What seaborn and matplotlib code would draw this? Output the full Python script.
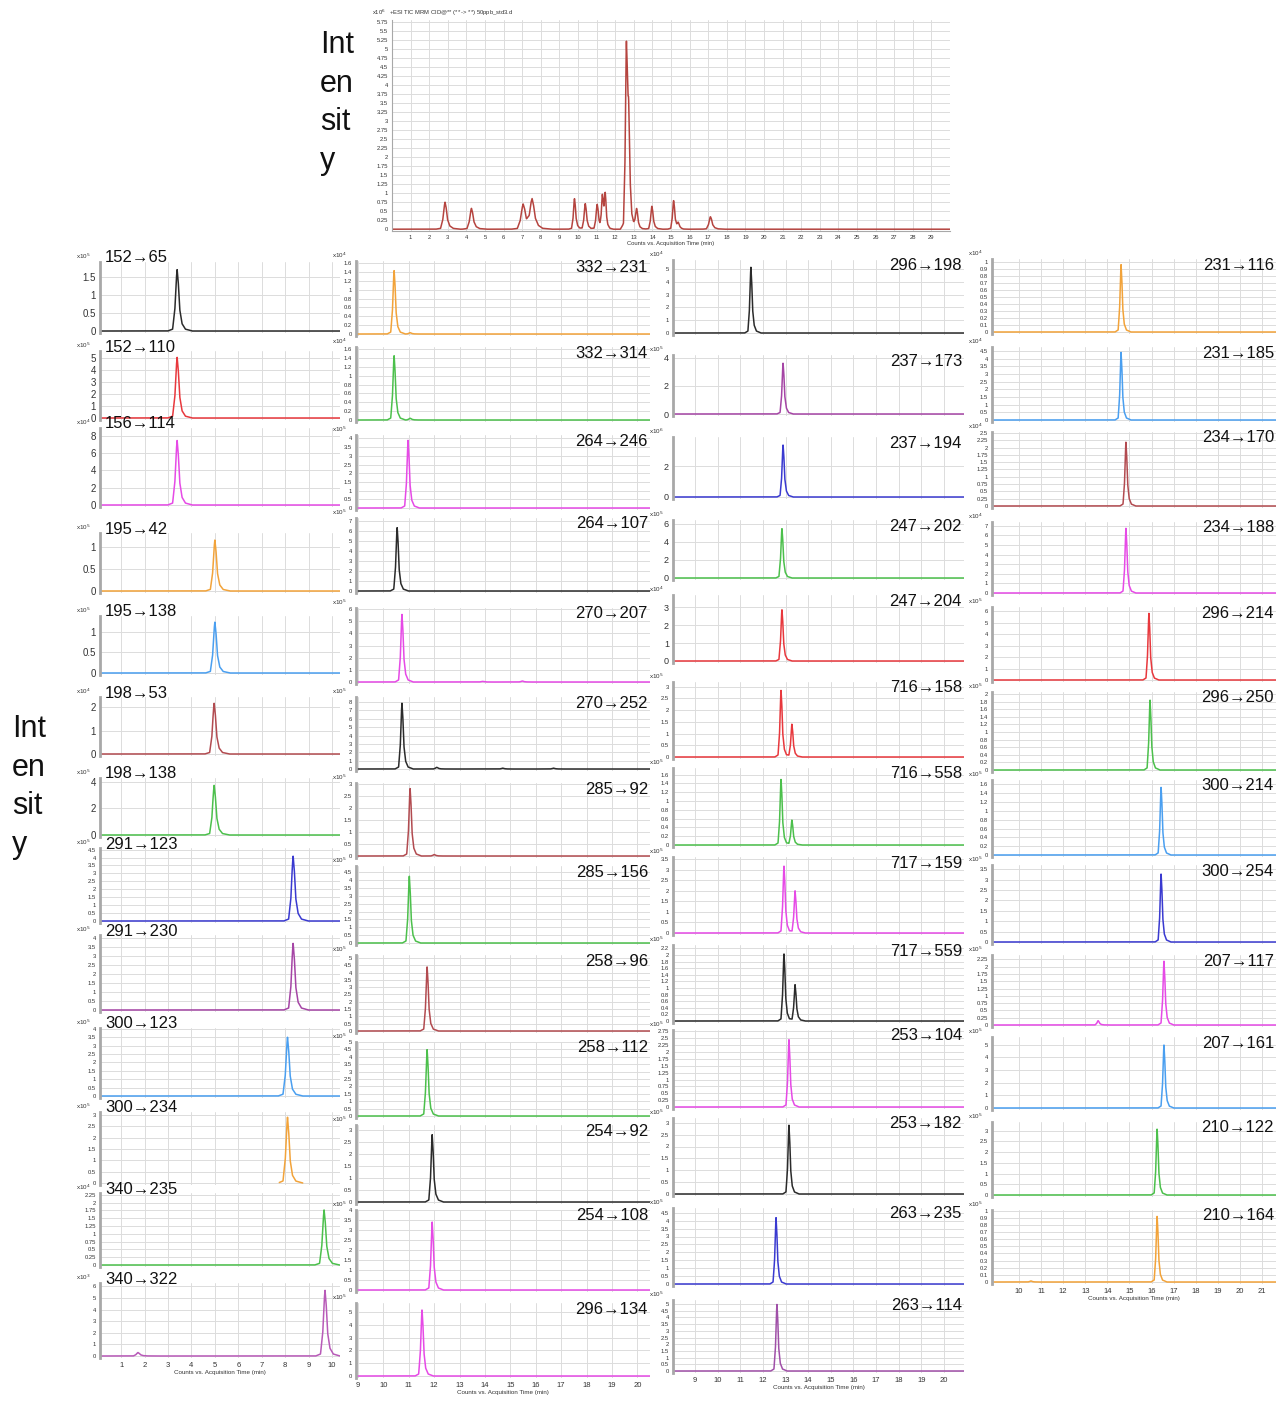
import numpy as np
import pandas as pd
import matplotlib
matplotlib.use("Agg")
import matplotlib.pyplot as plt
import seaborn as sns

sns.set_style("white")
plt.rcParams['font.family'] = ['Liberation Sans', 'DejaVu Sans']

# ---------------- DATA ----------------
# Total ion chromatogram (x10^6 counts) : retention time (min), peak height, relative width
tic_rt = [2.85, 4.27, 7.05, 7.53, 9.81, 10.39, 11.03, 11.31, 11.46, 12.60, 12.72,
          13.15, 13.97, 15.14, 15.39, 17.12]
tic_h = [0.75, 0.58, 0.69, 0.81, 0.86, 0.72, 0.70, 0.93, 0.93, 4.85, 2.40,
         0.56, 0.65, 0.81, 0.15, 0.35]
tic_w = [2.0, 2.0, 2.6, 2.6, 1.3, 1.4, 1.4, 1.1, 1.1, 1.3, 1.3, 1.4, 1.4, 1.3, 1.3, 1.8]
tic_yticks = [i * 0.25 for i in range(24)]
tic_xticks = list(range(1, 30))

# Column 1 (MRM transitions)
col1_labels = ["152→65", "152→110", "156→114", "195→42", "195→138", "198→53", "198→138",
               "291→123", "291→230", "300→123", "300→234", "340→235", "340→322"]
col1_rt = [[3.39], [3.39], [3.39], [5.0], [5.0], [4.97], [4.97],
           [8.34], [8.34], [8.10], [8.10], [9.66], [1.72, 9.70]]
col1_h = [[1.7], [5.1], [7.5], [1.16], [1.24], [2.17], [3.76],
          [4.1], [3.7], [3.5], [2.9], [1.77], [0.3, 5.7]]
col1_ymax = [1.9, 5.6, 8.9, 1.32, 1.39, 2.43, 4.3, 4.6, 4.15, 4.05, 3.13, 2.31, 6.3]
col1_ystep = [0.5, 1, 2, 0.5, 0.5, 1, 2, 0.5, 0.5, 0.5, 0.5, 0.25, 1]
col1_exp = [5, 5, 4, 5, 5, 4, 5, 5, 5, 5, 5, 4, 3]
col1_span = [None] * 10 + [(7.75, 8.75)] + [None] * 2
col1_xticks = list(range(1, 11))

# Column 2
col2_labels = ["332→231", "332→314", "264→246", "264→107", "270→207", "270→252", "285→92",
               "285→156", "258→96", "258→112", "254→92", "254→108", "296→134"]
col2_rt = [[10.42, 11.05], [10.42, 11.05], [10.97], [10.54], [10.73, 13.9, 15.47],
           [10.73, 12.1, 14.7, 16.7], [11.05, 12.0], [11.02], [11.72], [11.72],
           [11.92], [11.92], [11.52]]
col2_h = [[1.45, 0.03], [1.47, 0.04], [3.9], [6.4], [5.6, 0.05, 0.08],
          [7.9, 0.2, 0.1, 0.1], [2.83, 0.06], [4.26], [4.4], [4.5], [2.8], [3.4], [5.2]]
col2_ymax = [1.65, 1.65, 4.2, 7.3, 6.1, 8.6, 3.04, 4.9, 5.2, 5.0, 3.2, 4.0, 5.7]
col2_ystep = [0.2, 0.2, 0.5, 1, 1, 1, 0.5, 0.5, 0.5, 0.5, 0.5, 0.5, 1]
col2_exp = [4, 4, 5, 5, 5, 5, 5, 5, 5, 5, 5, 5, 5]
col2_xticks = list(range(9, 21))

# Column 3
col3_labels = ["296→198", "237→173", "237→194", "247→202", "247→204", "716→158", "716→558",
               "717→159", "717→559", "253→104", "253→182", "263→235", "263→114"]
col3_rt = [[11.47], [12.89], [12.89], [12.84], [12.84], [12.8, 13.28], [12.8, 13.28],
           [12.93, 13.42], [12.93, 13.42], [13.15], [13.15], [12.58], [12.62]]
col3_h = [[5.15], [3.64], [3.4], [5.5], [2.9], [2.86, 1.41], [1.5, 0.57],
          [3.2, 2.0], [2.05, 1.1], [2.45], [2.9], [4.2], [5.0]]
col3_ymax = [5.7, 4.2, 3.9, 6.4, 3.7, 3.2, 1.75, 3.6, 2.3, 2.8, 3.2, 4.8, 5.3]
col3_ystep = [1, 2, 2, 2, 1, 0.5, 0.2, 0.5, 0.2, 0.25, 0.5, 0.5, 0.5]
col3_exp = [4, 5, 6, 5, 4, 5, 5, 5, 5, 5, 5, 5, 5]
col3_xticks = list(range(9, 21))

# Column 4
col4_labels = ["231→116", "231→185", "234→170", "234→188", "296→214", "296→250",
               "300→214", "300→254", "207→117", "207→161", "210→122", "210→164"]
col4_rt = [[14.62], [14.62], [14.84], [14.84], [15.88], [15.93], [16.43], [16.43],
           [13.58, 16.56], [16.56], [16.25], [10.54, 16.25]]
col4_h = [[0.96], [4.4], [2.2], [6.8], [5.8], [1.85], [1.55], [3.3],
          [0.15, 2.2], [5.0], [3.1], [0.015, 0.93]]
col4_ymax = [1.04, 4.75, 2.53, 7.4, 6.35, 2.05, 1.7, 3.7, 2.4, 5.6, 3.4, 1.01]
col4_ystep = [0.1, 0.5, 0.25, 1, 1, 0.2, 0.2, 0.5, 0.25, 1, 0.5, 0.1]
col4_exp = [4, 4, 4, 4, 5, 5, 5, 5, 5, 5, 5, 5]
col4_xticks = list(range(10, 22))

# ---------------- STYLE / LAYOUT ----------------
BLACK, RED, MAG, ORA, LBLUE = "#2b2b2b", "#e8383d", "#e64ae6", "#f2a33a", "#4a9ff0"
BROWN, GREEN, BLUE, PURP = "#b24b50", "#4cc04c", "#3a3ad0", "#a545a5"
col1_colors = [BLACK, RED, MAG, ORA, LBLUE, BROWN, GREEN, BLUE, PURP, LBLUE, ORA, GREEN, "#b85ab8"]
col2_colors = [ORA, GREEN, MAG, BLACK, MAG, BLACK, BROWN, GREEN, BROWN, GREEN, BLACK, MAG, MAG]
col3_colors = [BLACK, PURP, BLUE, GREEN, RED, RED, GREEN, MAG, BLACK, MAG, BLACK, BLUE, "#a050a8"]
col4_colors = [ORA, LBLUE, BROWN, MAG, RED, GREEN, LBLUE, BLUE, MAG, LBLUE, GREEN, ORA]

col1_box = [(262, 331), (351, 418), (428, 505), (533, 591), (616, 673), (697, 754), (778, 835),
            (848, 921), (935, 1010), (1028, 1096), (1112, 1183), (1193, 1265), (1283, 1356)]
col2_box = [(261, 334), (347, 420), (435, 508), (518, 591), (608, 682), (697, 769), (783, 856),
            (866, 943), (955, 1031), (1042, 1116), (1125, 1202), (1210, 1290), (1303, 1376)]
col3_box = [(260, 333), (355, 414), (437, 497), (520, 578), (595, 661), (682, 757), (768, 845),
            (857, 933), (945, 1021), (1030, 1107), (1118, 1194), (1208, 1284), (1300, 1371)]
col4_box = [(259, 332), (347, 420), (432, 506), (522, 593), (607, 680), (692, 770), (780, 855),
            (865, 942), (955, 1025), (1037, 1108), (1122, 1195), (1210, 1282)]
col1_tfs = [7] * 7 + [4.2] * 6
col2_tfs = [4.2] * 13
col3_tfs = [4.2, 6.5, 6.5, 6.5, 6.5] + [4.2] * 8
col4_tfs = [4.2] * 12

W, H = 1278, 1404
fig = plt.figure(figsize=(W / 100, H / 100), dpi=100)
fig.patch.set_facecolor("white")

SHAPE_OFF = np.array([-0.25, -0.12, -0.06, -0.02, 0.0, 0.03, 0.07, 0.13, 0.22, 0.40])
SHAPE_FR = np.array([0.0, 0.03, 0.35, 0.85, 1.0, 0.8, 0.35, 0.12, 0.03, 0.0])


def trace(xlo, xhi, rts, hs, wscales):
    t = np.linspace(xlo, xhi, 3000)
    v = np.zeros_like(t)
    for r, h, w in zip(rts, hs, wscales):
        v += np.interp(t, r + SHAPE_OFF * w, h * SHAPE_FR, left=0, right=0)
    return pd.DataFrame({"t": t, "v": v})


def add_ax(x0, top, x1, bottom):
    return fig.add_axes([x0 / W, 1 - bottom / H, (x1 - x0) / W, (bottom - top) / H])


def style_ax(ax, xlim, xticks, ymax, ystep, tfs, show_x, xlab_fs=4.5):
    ax.set_xlim(*xlim)
    ax.set_xticks(xticks)
    n = int(round(ymax / ystep + 1e-6))
    yt = [round(i * ystep, 4) for i in range(n + 1) if i * ystep <= ymax + 1e-9]
    ax.set_yticks(yt)
    ax.set_yticklabels([f"{v:g}" for v in yt])
    ax.grid(True, color="#dcdcdc", lw=0.7)
    ax.set_axisbelow(True)
    for s in ["top", "right", "bottom"]:
        ax.spines[s].set_visible(False)
    ax.spines["left"].set_color("#a8a8a8")
    ax.spines["left"].set_linewidth(2.0)
    ax.tick_params(axis="y", labelsize=tfs, length=2, width=0.6, pad=1, colors="#333333")
    ax.tick_params(axis="x", labelsize=5.5, length=2, width=0.6, pad=1, colors="#333333",
                   labelbottom=show_x)
    ax.set_xlabel("Counts vs. Acquisition Time (min)" if show_x else "", fontsize=xlab_fs,
                  labelpad=0.5, color="#333333")
    ax.set_ylabel("")


def draw_column(labels, rts, hs, ymaxs, ysteps, exps, colors, boxes, tfs, xpx, xlim, xticks,
                wscale, label_left, spans=None):
    n = len(labels)
    for i in range(n):
        top, zero = boxes[i]
        ymax = ymaxs[i]
        pad = 2
        ax = add_ax(xpx[0], top, xpx[1], zero + pad)
        lo, hi = xlim
        if spans is not None and spans[i] is not None:
            lo, hi = spans[i]
        df = trace(lo, hi, rts[i], hs[i], [wscale] * len(rts[i]))
        sns.lineplot(data=df, x="t", y="v", ax=ax, color=colors[i], lw=1.1, estimator=None)
        ax.set_ylim(-ymax * pad / (zero - top), ymax)
        style_ax(ax, xlim, xticks, ymax, ysteps[i], tfs[i], i == n - 1)
        fig.text((xpx[0] - 24) / W, 1 - (top - 6) / H, f"x10$^{{{exps[i]}}}$", fontsize=4.5,
                 color="#333333", va="center", ha="left")
        if label_left:
            fig.text((xpx[0] + 5) / W, 1 - (top - 4) / H, labels[i], fontsize=12,
                     ha="left", va="center", color="#111111")
        else:
            fig.text((xpx[1] - 2) / W, 1 - (top + 6) / H, labels[i], fontsize=12,
                     ha="right", va="center", color="#111111")


# ---------------- TOP TIC ----------------
ax0 = add_ax(392, 20, 950, 231)
df0 = trace(0, 30, tic_rt, tic_h, tic_w)
sns.lineplot(data=df0, x="t", y="v", ax=ax0, color="#b5443f", lw=1.1, estimator=None)
ax0.set_ylim(-0.05, 5.8)
ax0.set_xlim(0, 30)
ax0.set_xticks(tic_xticks)
ax0.set_yticks(tic_yticks)
ax0.set_yticklabels([f"{v:g}" for v in tic_yticks])
ax0.grid(True, color="#dcdcdc", lw=0.7)
for s in ["top", "right"]:
    ax0.spines[s].set_visible(False)
ax0.spines["left"].set_color("#a8a8a8")
ax0.spines["bottom"].set_color("#a8a8a8")
ax0.tick_params(labelsize=4.2, length=2, width=0.6, pad=1, colors="#333333")
ax0.set_xlabel("Counts vs. Acquisition Time (min)", fontsize=4.2, labelpad=0.5, color="#333333")
ax0.set_ylabel("")
fig.text(372 / W, 1 - 13 / H, "x10$^{6}$   +ESI TIC MRM CID@** (** -> **) 50ppb_std3.d",
         fontsize=4.2, va="center", ha="left", color="#333333")

fig.text(320 / W, 1 - 30 / H, "Int\nen\nsit\ny", fontsize=22, ha="left", va="top",
         linespacing=1.38, color="#111111")
fig.text(12 / W, 1 - 714 / H, "Int\nen\nsit\ny", fontsize=22, ha="left", va="top",
         linespacing=1.38, color="#111111")

# ---------------- MRM COLUMNS ----------------
draw_column(col1_labels, col1_rt, col1_h, col1_ymax, col1_ystep, col1_exp, col1_colors,
            col1_box, col1_tfs, (100, 340), (0.1, 10.34), col1_xticks, 1.6, True, col1_span)
draw_column(col2_labels, col2_rt, col2_h, col2_ymax, col2_ystep, col2_exp, col2_colors,
            col2_box, col2_tfs, (356, 650), (8.92, 20.5), col2_xticks, 1.1, False)
draw_column(col3_labels, col3_rt, col3_h, col3_ymax, col3_ystep, col3_exp, col3_colors,
            col3_box, col3_tfs, (673, 964), (8.03, 20.88), col3_xticks, 1.1, False)
draw_column(col4_labels, col4_rt, col4_h, col4_ymax, col4_ystep, col4_exp, col4_colors,
            col4_box, col4_tfs, (992, 1276), (8.78, 21.63), col4_xticks, 1.1, False)

fig.savefig("out.png", dpi=100, facecolor="white")
